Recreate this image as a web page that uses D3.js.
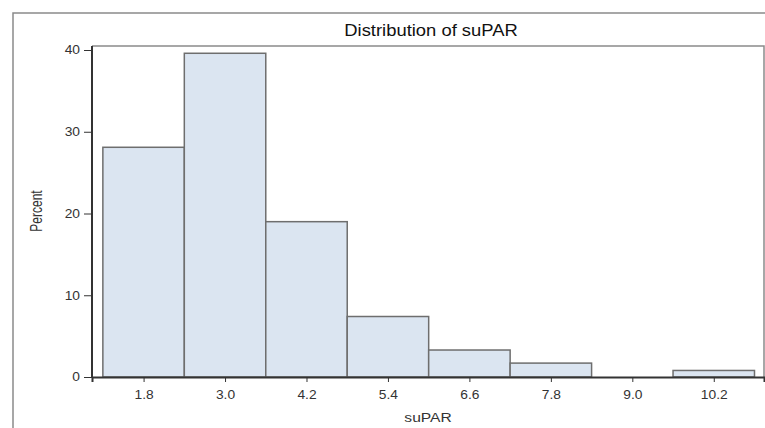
<!DOCTYPE html>
<html>
<head>
<meta charset="utf-8">
<script src="https://cdn.jsdelivr.net/npm/d3@7"></script>
<style>
  body { margin: 0; background: #fff; }
  svg { display: block; font-family: "Liberation Sans", Arial, sans-serif; }
</style>
</head>
<body>
<script>
// histogram bins (midpoints) and percent per bin
const midpoints = [1.8, 3.0, 4.2, 5.4, 6.6, 7.8, 9.0, 10.2];
const percents = [28.1, 39.6, 19.0, 7.4, 3.3, 1.7, 0, 0.8];
const binWidth = 1.2;
const yTicks = [0, 10, 20, 30, 40];

const W = 765, H = 428;
const margin = { top: 46, right: 1, bottom: 51, left: 92 };
const font = "'Liberation Sans', Arial, sans-serif";

const svg = d3.select("body").append("svg")
  .attr("width", W)
  .attr("height", H);

//outer frame (only top and left edges visible)
svg.append("path")
  .attr("d", `M13,${H}V13H${W}`)
  .attr("fill", "none")
  .attr("stroke", "#8a8a8a")
  .attr("stroke-width", 1.5);

const x = d3.scaleLinear()
  .domain([1.04, 10.94])
  .range([margin.left, W - margin.right]);

const y = d3.scaleLinear()
  .domain([0, 40])
  .range([H - margin.bottom, 50]);

//plot frame top and right
svg.append("path")
  .attr("d", `M${margin.left},${margin.top}H${W - margin.right}V${H - margin.bottom}`)
  .attr("fill", "none")
  .attr("stroke", "#8a8a8a")
  .attr("stroke-width", 1.5);

//bars
svg.append("g")
  .selectAll("rect")
  .data(midpoints.map((m, i) => ({ m, p: percents[i] })).filter(d => d.p > 0))
  .join("rect")
  .attr("x", d => x(d.m - binWidth / 2))
  .attr("width", d => x(d.m + binWidth / 2) - x(d.m - binWidth / 2))
  .attr("y", d => y(d.p))
  .attr("height", d => y(0) - y(d.p))
  .attr("fill", "#dbe5f1")
  .attr("stroke", "#6e6e6e")
  .attr("stroke-width", 1.5);

//x axis
const xAxis = svg.append("g")
  .attr("transform", `translate(0,${y(0)})`)
  .call(d3.axisBottom(x).tickValues(midpoints).tickFormat(d3.format(".1f")).tickSize(5).tickPadding(8));
xAxis.select(".domain").attr("stroke", "#333").attr("stroke-width", 2);
xAxis.selectAll(".tick line").attr("stroke", "#333");
xAxis.selectAll("text")
  .attr("font-size", 12).attr("fill", "#333").attr("font-family", font)
  .attr("transform", "scale(1.15,1)");

//y axis
const yAxis = svg.append("g")
  .attr("transform", `translate(${margin.left},0)`)
  .call(d3.axisLeft(y).tickValues(yTicks).tickSize(8));
yAxis.select(".domain").attr("stroke", "#333").attr("stroke-width", 2)
  .attr("d", `M0,${y(0)}V${margin.top}`);
yAxis.selectAll(".tick line").attr("stroke", "#333");
yAxis.selectAll("text")
  .attr("font-size", 12).attr("fill", "#333").attr("font-family", font)
  .attr("x", -10.4)
  .attr("transform", "scale(1.15,1)");

//title
svg.append("text")
  .attr("transform", "translate(431,36) scale(1.15,1)")
  .attr("text-anchor", "middle")
  .attr("font-size", 16)
  .attr("fill", "#111")
  .text("Distribution of suPAR");

//axis labels
svg.append("text")
  .attr("transform", "translate(428,422) scale(1.2,1)")
  .attr("text-anchor", "middle")
  .attr("font-size", 13)
  .attr("fill", "#333")
  .text("suPAR");

svg.append("text")
  .attr("transform", "translate(42,211) rotate(-90) scale(1,1.45)")
  .attr("text-anchor", "middle")
  .attr("font-size", 12)
  .attr("fill", "#333")
  .text("Percent");
</script>
</body>
</html>
